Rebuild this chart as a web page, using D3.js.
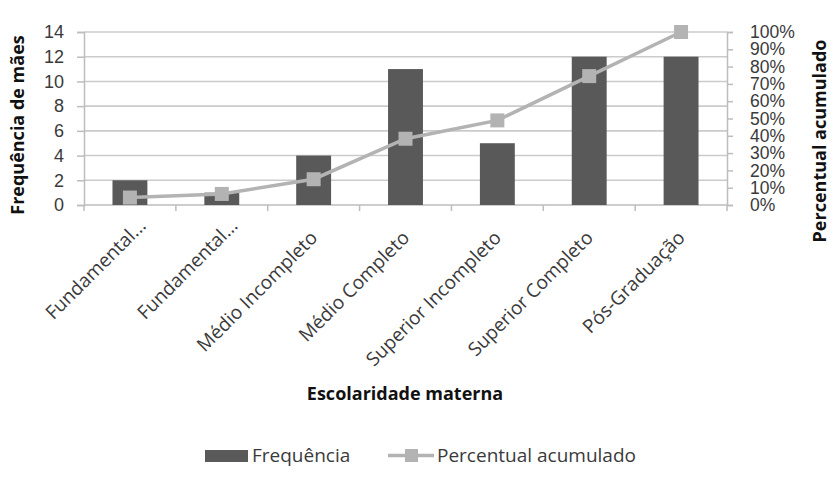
<!DOCTYPE html>
<html>
<head>
<meta charset="utf-8">
<script src="https://cdn.jsdelivr.net/npm/d3@7"></script>
<style>
  html, body { margin: 0; padding: 0; background: #fff; }
  svg { display: block; font-family: "Open Sans", "Liberation Sans", sans-serif; }
</style>
</head>
<body>
<svg id="chart" width="840" height="484"></svg>
<script>
// Escolaridade materna: frequência e percentual acumulado
const categories = [
  "Fundamental...", "Fundamental...", "Médio Incompleto", "Médio Completo",
  "Superior Incompleto", "Superior Completo", "Pós-Graduação"
];
const frequencies = [2, 1, 4, 11, 5, 12, 12];
const cumulativePct = [4.3, 6.4, 14.9, 38.3, 48.9, 74.5, 100];
const leftTicks = [0, 2, 4, 6, 8, 10, 12, 14];
const rightTicks = [0, 10, 20, 30, 40, 50, 60, 70, 80, 90, 100];

const svg = d3.select("#chart");
const plot = { left: 84, right: 727, top: 32, bottom: 205 };

const keys = categories.map((c, i) => i);
const x = d3.scaleBand().domain(keys).range([plot.left, plot.right]).paddingInner(0.62).paddingOuter(0.31);
const xTick = d3.scaleBand().domain(keys).range([plot.left, plot.right]);
const yL = d3.scaleLinear().domain([0, 14]).range([plot.bottom, plot.top]);
const yR = d3.scaleLinear().domain([0, 100]).range([plot.bottom, plot.top]);

const axisColor = "#bdbdbd";
const textColor = "#3a3a3a";
const lineColor = "#b3b3b3";
const barColor = "#595959";

// horizontal gridlines
svg.append("g")
  .selectAll("line")
  .data(leftTicks.filter(t => t > 0))
  .join("line")
  .attr("x1", plot.left).attr("x2", plot.right)
  .attr("y1", d => yL(d)).attr("y2", d => yL(d))
  .attr("stroke", "#cbcbcb").attr("stroke-width", 1.6);

// left axis
const gL = svg.append("g").attr("transform", `translate(${plot.left},0)`)
  .call(d3.axisLeft(yL).tickValues(leftTicks).tickSize(7).tickPadding(13));
gL.select(".domain").attr("stroke", axisColor).attr("stroke-width", 1.5);
gL.selectAll(".tick line").attr("stroke", axisColor).attr("stroke-width", 1.5);
gL.selectAll(".tick text").attr("fill", textColor).style("font-size", "18px");

// right axis
const gR = svg.append("g").attr("transform", `translate(${plot.right},0)`)
  .call(d3.axisRight(yR).tickValues(rightTicks).tickFormat(d => d + "%").tickSize(6).tickPadding(17));
gR.select(".domain").attr("stroke", axisColor).attr("stroke-width", 1.5);
gR.selectAll(".tick line").attr("stroke", axisColor).attr("stroke-width", 1.5);
gR.selectAll(".tick text").attr("fill", textColor).style("font-size", "17.5px");

// bottom axis (category boundaries)
const gB = svg.append("g");
gB.append("line")
  .attr("x1", plot.left).attr("x2", plot.right)
  .attr("y1", plot.bottom).attr("y2", plot.bottom)
  .attr("stroke", axisColor).attr("stroke-width", 1.5);
gB.selectAll("line.tk")
  .data(keys.concat([keys.length]))
  .join("line").attr("class", "tk")
  .attr("x1", d => d < keys.length ? xTick(d) : plot.right)
  .attr("x2", d => d < keys.length ? xTick(d) : plot.right)
  .attr("y1", plot.bottom).attr("y2", plot.bottom + 6)
  .attr("stroke", axisColor).attr("stroke-width", 1.5);

// bars
svg.append("g")
  .selectAll("rect")
  .data(frequencies)
  .join("rect")
  .attr("x", (d, i) => x(i))
  .attr("width", x.bandwidth())
  .attr("y", d => yL(d))
  .attr("height", d => yL(0) - yL(d))
  .attr("fill", barColor);

// cumulative line
const cx = i => xTick(i) + xTick.bandwidth() / 2;
svg.append("path")
  .datum(cumulativePct)
  .attr("d", d3.line().x((d, i) => cx(i)).y(d => yR(d)))
  .attr("fill", "none").attr("stroke", lineColor).attr("stroke-width", 3.5);

svg.append("g")
  .selectAll("rect")
  .data(cumulativePct)
  .join("rect")
  .attr("x", (d, i) => cx(i) - 7)
  .attr("y", d => yR(d) - 7)
  .attr("width", 14).attr("height", 14)
  .attr("fill", lineColor);

// category labels (truncated labels sit a little further along the slant)
svg.append("g")
  .selectAll("text")
  .data(categories)
  .join("text")
  .attr("transform", (d, i) => `translate(${cx(i) + 5},${plot.bottom + 34}) rotate(-45)`)
  .attr("dx", d => d.endsWith("...") ? 17 : 0)
  .attr("text-anchor", "end")
  .attr("fill", textColor)
  .style("font-size", "19px")
  .text(d => d);

// axis titles
svg.append("text")
  .attr("transform", `translate(24,125) rotate(-90)`)
  .attr("text-anchor", "middle")
  .attr("font-weight", "bold").style("font-size", "18px").attr("fill", "#111")
  .text("Frequência de mães");

svg.append("text")
  .attr("transform", `translate(826,141) rotate(-90)`)
  .attr("text-anchor", "middle")
  .attr("font-weight", "bold").style("font-size", "18px").attr("fill", "#111")
  .text("Percentual acumulado");

svg.append("text")
  .attr("x", 405).attr("y", 400)
  .attr("text-anchor", "middle")
  .attr("font-weight", "bold").style("font-size", "18px").attr("fill", "#111")
  .text("Escolaridade materna");

// legend
const lg = svg.append("g");
lg.append("rect").attr("x", 205).attr("y", 450).attr("width", 43).attr("height", 12).attr("fill", barColor);
lg.append("text").attr("x", 252).attr("y", 462).attr("fill", textColor).style("font-size", "19px").text("Frequência");
lg.append("line").attr("x1", 388).attr("x2", 434).attr("y1", 455.5).attr("y2", 455.5)
  .attr("stroke", lineColor).attr("stroke-width", 3.5);
lg.append("rect").attr("x", 405).attr("y", 449).attr("width", 13).attr("height", 13).attr("fill", lineColor);
lg.append("text").attr("x", 437).attr("y", 462).attr("fill", textColor).style("font-size", "19px").text("Percentual acumulado");
</script>
</body>
</html>
